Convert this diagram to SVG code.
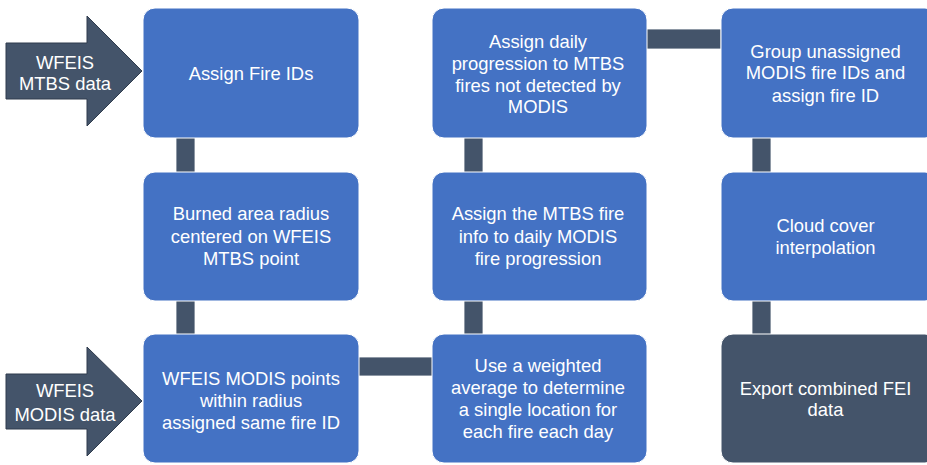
<svg xmlns="http://www.w3.org/2000/svg" width="927" height="465" viewBox="0 0 927 465">
<style>
.box{fill:#4472c4;stroke:#ffffff;stroke-width:1}
.dark{fill:#44546a;stroke:#ffffff;stroke-width:1}
.conn{fill:#44546a;stroke:#ffffff;stroke-width:0.8}
.arrow{fill:#44546a;stroke:#2f3b4c;stroke-width:1}
text{font-family:"Liberation Sans",Arial,sans-serif;font-size:18.4px;fill:#ffffff;text-anchor:middle}
</style>
<rect width="927" height="465" fill="#ffffff"/>
<g id="connectors">
<rect class="conn" x="176" y="137" width="19" height="36"/>
<rect class="conn" x="176" y="300" width="19" height="35"/>
<rect class="conn" x="464" y="137" width="19" height="36"/>
<rect class="conn" x="464" y="300" width="19" height="35"/>
<rect class="conn" x="752" y="137" width="19" height="36"/>
<rect class="conn" x="752" y="300" width="19" height="35"/>
<rect class="conn" x="646" y="29" width="75" height="20"/>
<rect class="conn" x="358" y="357" width="75" height="19"/>
</g>
<g id="input-mtbs">
<polygon class="arrow" points="6,43 87,43 87,16 142,71 87,126 87,99 6,99"/>
<text x="65" y="68.5">WFEIS</text>
<text x="65" y="90">MTBS data</text>
</g>
<g id="input-modis">
<polygon class="arrow" points="6,374 87,374 87,347 142,401 87,456 87,429 6,429"/>
<text x="65" y="396.5">WFEIS</text>
<text x="65" y="420.5">MODIS data</text>
</g>
<g id="n1">
<rect class="box" x="143" y="8" width="216" height="130" rx="12"/>
<text x="251" y="80">Assign Fire IDs</text>
</g>
<g id="n2">
<rect class="box" x="143" y="172" width="216" height="129" rx="12"/>
<text x="251" y="219.5">Burned area radius</text>
<text x="251" y="242.5">centered on WFEIS</text>
<text x="251" y="264.5">MTBS point</text>
</g>
<g id="n3">
<rect class="box" x="143" y="334" width="216" height="129" rx="12"/>
<text x="251" y="384.5">WFEIS MODIS points</text>
<text x="251" y="406.5">within radius</text>
<text x="251" y="428.5">assigned same fire ID</text>
</g>
<g id="n4">
<rect class="box" x="432" y="334" width="215" height="129" rx="12"/>
<text x="538" y="371.5">Use a weighted</text>
<text x="538" y="393.5">average to determine</text>
<text x="538" y="416">a single location for</text>
<text x="538" y="438">each fire each day</text>
</g>
<g id="n5">
<rect class="box" x="432" y="172" width="215" height="129" rx="12"/>
<text x="538" y="219.5">Assign the MTBS fire</text>
<text x="538" y="242.5">info to daily MODIS</text>
<text x="538" y="264.5">fire progression</text>
</g>
<g id="n6">
<rect class="box" x="432" y="8" width="215" height="130" rx="12"/>
<text x="538" y="48">Assign daily</text>
<text x="538" y="69.5">progression to MTBS</text>
<text x="538" y="91.5">fires not detected by</text>
<text x="538" y="113">MODIS</text>
</g>
<g id="n7">
<rect class="box" x="721" y="8" width="216" height="130" rx="12"/>
<text x="825.5" y="58">Group unassigned</text>
<text x="825.5" y="79">MODIS fire IDs and</text>
<text x="825.5" y="102">assign fire ID</text>
</g>
<g id="n8">
<rect class="box" x="721" y="172" width="216" height="129" rx="12"/>
<text x="825.5" y="231.5">Cloud cover</text>
<text x="825.5" y="253.5">interpolation</text>
</g>
<g id="n9">
<rect class="dark" x="721" y="334" width="216" height="129" rx="12"/>
<text x="825.5" y="394.5">Export combined FEI</text>
<text x="825.5" y="415.5">data</text>
</g>
</svg>
